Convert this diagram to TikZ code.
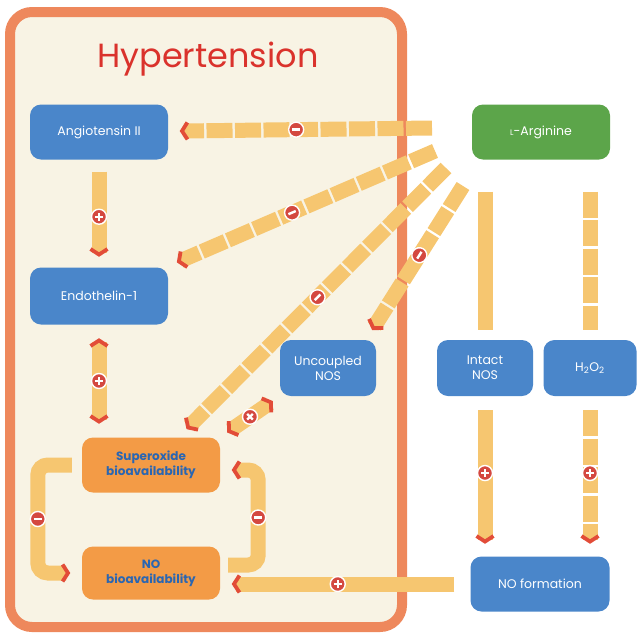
\documentclass[tikz,border=0pt]{standalone}
\usepackage{fontspec}
\setmainfont{Poppins}
\usetikzlibrary{arrows.meta,positioning}
\definecolor{frameorange}{RGB}{238,136,92}
\definecolor{framefill}{RGB}{248,243,228}
\definecolor{titlered}{RGB}{218,50,44}
\definecolor{boxblue}{RGB}{74,134,202}
\definecolor{boxgreen}{RGB}{92,165,74}
\definecolor{boxorange}{RGB}{243,155,70}
\definecolor{textblue}{RGB}{42,102,178}
\definecolor{barcol}{RGB}{246,198,112}
\definecolor{chevred}{RGB}{226,76,56}
\definecolor{sgnred}{RGB}{212,72,64}
\newcommand{\plusglyph}{\makebox[0pt]{\rule[-1.2pt]{8pt}{2.4pt}}\makebox[0pt]{\rule[-4pt]{2.4pt}{8pt}}}
\newcommand{\minusglyph}{\rule[-1.2pt]{8pt}{2.4pt}}
\tikzset{
  bluebox/.style={rounded corners=11pt,fill=boxblue,text=white,align=center,
    font=\fontsize{12.5}{15}\selectfont,minimum height=55pt},
  greenbox/.style={bluebox,fill=boxgreen},
  orangebox/.style={rounded corners=11pt,fill=boxorange,text=textblue,align=center,
    font=\fontsize{12}{15}\selectfont\bfseries,minimum width=138pt,minimum height=55pt},
  bar/.style={draw=barcol,line width=15pt},
  segs/.style={dash pattern=on 26pt off 2.5pt},
  sgn/.style={circle,fill=sgnred,draw=white,line width=1.4pt,solid,sharp corners,
    minimum size=15pt,inner sep=0pt,text=white}
}
\begin{document}
\begin{tikzpicture}[x=1pt,y=-1pt,
  >={Straight Barb[color=chevred,length=5.5pt,width=17pt,line width=3.8pt,sep=2.5pt]}]
  \useasboundingbox (0,0) rectangle (637,635);
  % Hypertension frame
  \draw[frameorange,line width=10pt,fill=framefill,rounded corners=22pt] (10,12) rectangle (402,627);
  \node[font=\fontsize{33.5}{38}\selectfont,text=titlered] (title) at (208,59) {Hypertension};
  % Boxes
  \node[bluebox,minimum width=138pt] (ang) at (99,132) {Angiotensin II};
  \node[bluebox,minimum width=138pt,minimum height=57pt] (endo) at (99,296) {Endothelin-1};
  \node[bluebox,minimum width=96pt,minimum height=56pt] (unc) at (328,368) {Uncoupled\\NOS};
  \node[bluebox,minimum width=96pt,minimum height=56pt] (int) at (485,368) {Intact\\NOS};
  \node[bluebox,minimum width=93pt,minimum height=56pt] (hoo) at (590,368) {H\textsubscript{2}O\textsubscript{2}};
  \node[bluebox,minimum width=139pt] (nof) at (540,584) {NO formation};
  \node[greenbox,minimum width=138pt] (larg) at (541,132) {{\footnotesize L}-Arginine};
  \node[orangebox] (sup) at (151,465) {Superoxide\\bioavailability};
  \node[orangebox,minimum height=53pt] (nob) at (151,573) {NO\\bioavailability};
  % Fan from L-Arginine
  \coordinate (fa) at (432,128);
  \coordinate (fb) at (435,151);
  \coordinate (fc) at (446,168);
  \coordinate (fd) at (463,186);
  \draw[bar,segs,->,shorten >=9pt] (fa) -- (ang) node[sgn,pos=.515]{\minusglyph};
  \draw[bar,segs,->,shorten >=10pt] (fb) -- (endo) node[sgn,pos=.53,sloped]{\minusglyph};
  \draw[bar,segs,->,shorten >=9pt] (fc) -- (sup) node[sgn,pos=.48,sloped]{\minusglyph};
  \draw[bar,segs,->,shorten >=9pt] (fd) -- ([xshift=38pt]unc.north) node[sgn,pos=.45,sloped]{\minusglyph};
  % Left column
  \draw[bar,->,shorten <=12pt,shorten >=8pt] (ang) -- (endo) node[sgn,pos=.53]{\plusglyph};
  \draw[bar,<->,shorten <=11pt,shorten >=11pt] (endo.south) -- (endo.south |- sup.north) node[sgn,pos=.5]{\plusglyph};
  \draw[bar,<->,shorten <=6pt,shorten >=6pt] (unc.south west) -- (sup.north east) node[sgn,pos=.5,rotate=45]{\plusglyph};
  % Superoxide / NO loop
  \draw[bar,->,rounded corners=10pt,shorten <=10pt,shorten >=9pt] (sup.west) -- ++(-44,0) |- (nob.west) node[sgn,pos=.25]{\minusglyph};
  \draw[bar,->,rounded corners=10pt,shorten <=8pt,shorten >=9pt] ([yshift=8pt]nob.east) -- ++(38,0) |- ([yshift=-5pt]sup.east) node[sgn,pos=.25]{\minusglyph};
  \draw[bar,->,shorten <=16pt,shorten >=9pt] (nof.west) -- (nob.east |- nof.west) node[sgn,pos=.53]{\plusglyph};
  % Right side
  \draw[bar,shorten <=32pt,shorten >=10pt] (int.north |- larg.south) -- (int.north);
  \draw[bar,segs,shorten <=32pt,shorten >=10pt] (hoo.north |- larg.south) -- (hoo.north);
  \draw[bar,->,shorten <=14pt,shorten >=10pt] (int.south) -- (int.south |- nof.north) node[sgn,pos=.48]{\plusglyph};
  \draw[bar,segs,->,shorten <=14pt,shorten >=10pt] (hoo.south) -- (hoo.south |- nof.north) node[sgn,pos=.48]{\plusglyph};
\end{tikzpicture}
\end{document}
